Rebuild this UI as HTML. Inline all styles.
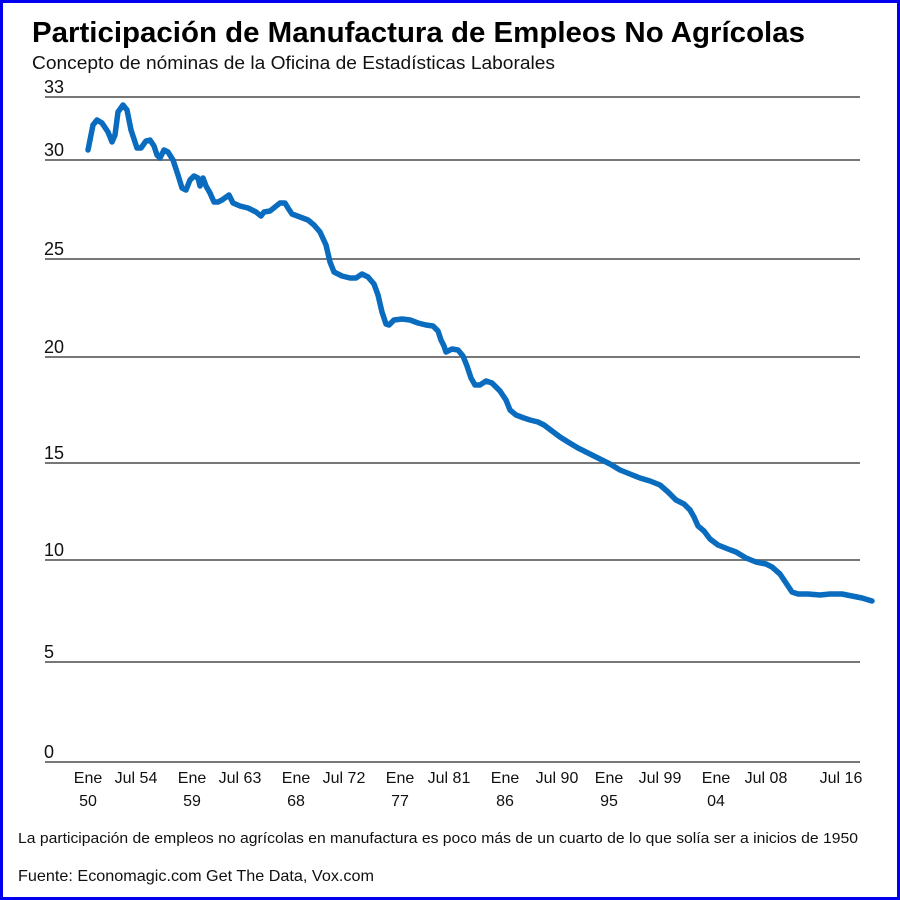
<!DOCTYPE html>
<html><head><meta charset="utf-8"><style>
html,body{margin:0;padding:0;background:#fff}
body{width:900px;height:900px;position:relative;overflow:hidden;font-family:"Liberation Sans",sans-serif}
.frame{position:absolute;left:0;top:0;width:894px;height:894px;border:3px solid #0000ee}
</style></head><body>
<div class="frame"></div>
<svg width="900" height="900" style="position:absolute;left:0;top:0" font-family="Liberation Sans, sans-serif">
<text x="32" y="42" font-size="29" font-weight="bold" fill="#000" textLength="773" lengthAdjust="spacingAndGlyphs">Participación de Manufactura de Empleos No Agrícolas</text>
<text x="32" y="69" font-size="18" fill="#111" textLength="523" lengthAdjust="spacingAndGlyphs">Concepto de nóminas de la Oficina de Estadísticas Laborales</text>
<g stroke="#777" stroke-width="2">
<line x1="45" x2="860" y1="97" y2="97"/><line x1="45" x2="860" y1="160" y2="160"/>
<line x1="45" x2="860" y1="259" y2="259"/><line x1="45" x2="860" y1="357" y2="357"/>
<line x1="45" x2="860" y1="463" y2="463"/><line x1="45" x2="860" y1="560" y2="560"/>
<line x1="45" x2="860" y1="662" y2="662"/><line x1="45" x2="860" y1="762" y2="762"/>
</g>
<g font-size="18" fill="#111">
<text x="44" y="93">33</text><text x="44" y="156">30</text><text x="44" y="255">25</text>
<text x="44" y="353">20</text><text x="44" y="459">15</text><text x="44" y="556">10</text>
<text x="44" y="658">5</text><text x="44" y="758">0</text>
</g>
<g font-size="16" fill="#111" text-anchor="middle">
<text x="88" y="783">Ene</text><text x="88" y="806">50</text>
<text x="136" y="783">Jul 54</text>
<text x="192" y="783">Ene</text><text x="192" y="806">59</text>
<text x="240" y="783">Jul 63</text>
<text x="296" y="783">Ene</text><text x="296" y="806">68</text>
<text x="344" y="783">Jul 72</text>
<text x="400" y="783">Ene</text><text x="400" y="806">77</text>
<text x="449" y="783">Jul 81</text>
<text x="505" y="783">Ene</text><text x="505" y="806">86</text>
<text x="557" y="783">Jul 90</text>
<text x="609" y="783">Ene</text><text x="609" y="806">95</text>
<text x="660" y="783">Jul 99</text>
<text x="716" y="783">Ene</text><text x="716" y="806">04</text>
<text x="766" y="783">Jul 08</text>
<text x="841" y="783">Jul 16</text>
</g>
<text x="18" y="843" font-size="15" fill="#111" textLength="840" lengthAdjust="spacingAndGlyphs">La participación de empleos no agrícolas en manufactura es poco más de un cuarto de lo que  solía ser a inicios de 1950</text>
<text x="18" y="881" font-size="16" fill="#111" textLength="356" lengthAdjust="spacingAndGlyphs">Fuente: Economagic.com Get The Data, Vox.com</text>
<polyline fill="none" stroke="#0a6cbf" stroke-width="5.5" stroke-linejoin="round" stroke-linecap="round" points="88,150 90,140 93,125 97,120 102,123 108,132 112,142 115,135 118,112 123,105 127,110 131,130 137,148 141,148 146,141 150,140 154,146 157,155 160,158 164,150 168,152 173,160 178,175 182,188 186,190 190,180 194,176 198,178 200,186 203,178 206,186 210,193 214,202 218,202 222,200 229,195 233,203 240,206 248,208 256,212 261,216 264,212 270,211 275,207 280,203 285,203 288,208 292,214 300,217 308,220 314,225 320,232 326,245 330,262 334,272 342,276 350,278 356,278 362,274 368,277 374,284 378,295 382,312 386,324 389,325 394,320 402,319 410,320 418,323 426,325 433,326 438,331 441,340 444,346 446,352 452,349 458,350 463,356 467,366 471,378 475,385 480,385 486,381 492,383 500,391 506,400 510,410 516,415 524,418 530,420 538,422 544,425 552,431 560,437 568,442 578,448 590,454 600,459 610,464 620,470 630,474 640,478 650,481 660,485 668,492 676,500 684,504 690,510 694,517 698,526 704,531 710,539 718,545 728,549 736,552 746,558 756,562 766,564 772,567 780,574 786,583 792,592 798,594 808,594 820,595 830,594 842,594 852,596 862,598 872,601"/>
</svg>
</body></html>
